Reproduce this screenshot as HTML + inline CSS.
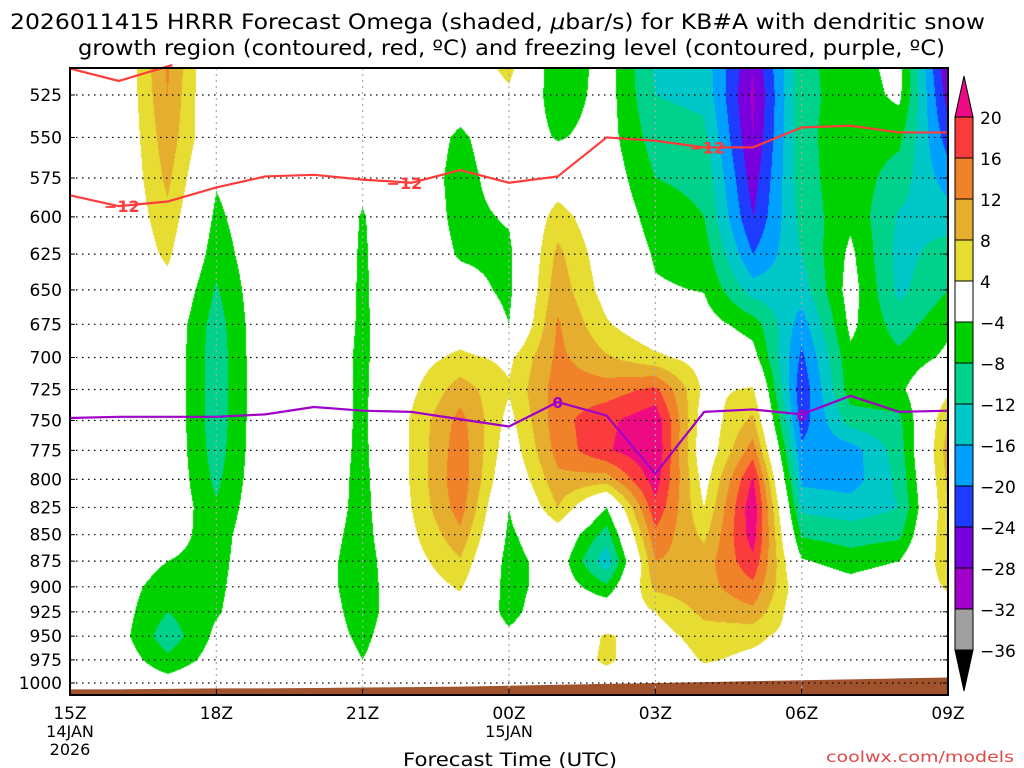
<!DOCTYPE html>
<html><head><meta charset="utf-8">
<style>
html,body{margin:0;padding:0;background:#fff;width:1024px;height:768px;overflow:hidden}
#wrap{position:relative;width:1024px;height:768px;font-family:"DejaVu Sans","Liberation Sans",sans-serif}
canvas{position:absolute;left:0;top:0}
svg{position:absolute;left:0;top:0}
</style></head>
<body>
<div id="wrap">
<canvas id="cv" width="1024" height="768"></canvas>
<svg id="sv" width="1024" height="768"></svg>
</div>
<script>
// ---- data ----
const hours = [0,1,2,3,4,5,6,7,8,9,10,11,12,13,14,15,16,17,18];
const xTickLabels = ["15Z","18Z","21Z","00Z","03Z","06Z","09Z"];
const xTickHours = [0,3,6,9,12,15,18];
const xDateLabels = [["14JAN","2026"],null,null,["15JAN"],null,null,null];
const pressureLevels = [500,525,550,575,600,625,650,675,700,725,750,775,800,825,850,875,900,925,950,975,1000];
const yTickLabels = [525,550,575,600,625,650,675,700,725,750,775,800,825,850,875,900,925,950,975,1000];
// omega rows (per pressure level), columns = hours
const omega500 = [0,-1,13,-2,0,0,0,0,0,7,-8,-2,-13,-14,-27,-9,-6,-2,-29];
const omega525 = [0,-1,12,-2,0,0,0,0,-1,3,-7,-2,-12,-13,-29,-9,-6.5,-3,-26];
const omega550 = [0,-1,10.5,-1,0,0,0,0,-5,0,-4.5,-2,-10,-11,-28,-9,-6,-7,-22];
const omega575 = [0,-1,9,-3.5,0,0,-3,0,-6,-1,1,-1,-8,-9,-26,-9.5,-5.5,-10,-18];
const omega600 = [0,-1,7,-5,0,0,-4.3,0,-5.5,-3.5,6,0,-6,-8,-24,-10.5,-5,-12.5,-14];
const omega625 = [0,-1,5,-6.5,0,0,-4.5,0,-4.5,-5,9,1,-4.5,-6,-20,-12,-3,-13.5,-10];
const omega650 = [0,0,2,-8.5,0,0,-4.6,0,-2,-5,10.5,2,-3.5,-4.2,-14,-14,-2,-13,-8];
const omega675 = [0,0,0,-10,0,0,-4.7,0,1,-4,12.5,4.5,0,-2,-6,-18,-3,-10,-5];
const omega700 = [0,0,0,-10.5,0,0,-5,2,5,3,13,8.5,5,2,-2,-21,-5,-7,-3];
const omega725 = [0,0,0,-10.5,0,0,-5,3,10,4.5,14,14,17,3,4.5,-23,-6,-5,3];
const omega750 = [0,0,0,-10.5,0,0,-5,4.5,13.5,2.5,14.5,19,23,1,9,-22,-10,-9,8];
const omega775 = [0,0,0,-10,0,0,-5.2,4.5,14.5,1,13.5,19.5,23.5,0,14,-19,-18,-10,10];
const omega800 = [0,0,0,-9,0,0,-5.5,4.5,15,-1,11,10,22,2,20.5,-17,-18,-11,9];
const omega825 = [0,0,0,-7.5,0,0,-5.7,4,14,-4,8,-4,19,4,23,-13,-14,-12,8];
const omega850 = [0,0,-2,-6,0,-1,-6,3,11,-5,1,-10,15,7,22,-8.5,-10,-9,8];
const omega875 = [0,-1,-4,-5.5,0,-1.5,-6.5,2,7.5,-6,-1,-15,12,10,19,-3.5,-6,-4,7];
const omega900 = [0,-2,-6,-5,0,-1.5,-6.5,1,4.5,-6,-1,-7,9,10.5,15,0,-2,0,4.5];
const omega925 = [0,-2,-8,-4.5,0,-1,-6,0,2,-5.5,0,0,4,9,11,0,0,0,2];
const omega950 = [0,-2,-10.5,-3,0,-1,-5,0,0,-3,0,4.5,2,6,5,2,0,0,1];
const omega975 = [0,-1,-7,-2,0,0,-4,0,0,-1,0,5,0,4.5,3,2,0,0,0];
const omega1000 = [0,0,-2,0,0,0,-2,0,0,0,0,1,0,1,1,0,0,0,0];
const dendriticMinus12 = [586,593,590,581,574,573,576,578,570,578,574,550,552,556,556,544,543,547,547];
const dendriticTop = [[0,510],[1,517],[2.1,508]];
const freezingLevel = [748,747,747,747,745,739,742,743,749,755,735,746,795,743,741,745,730,743,742];
const surfacePressure = [1007,1007,1006.5,1006,1006,1005.5,1005,1004.5,1004,1003,1002,1001,1000,999,998,997,996,995,994];
const colorLevels = [20,16,12,8,4,-4,-8,-12,-16,-20,-24,-28,-32,-36];
const shadeColors = ["#ee0a82","#fa3c3c","#f0822a","#e6ae2e","#e6dc32","#ffffff","#00d200","#00d28c","#00c8c8","#00a0ff","#1e3cff","#7800dc","#a000c8","#a0a0a0","#000000"];

const omegaRows = [omega500,omega525,omega550,omega575,omega600,omega625,omega650,omega675,omega700,omega725,omega750,omega775,omega800,omega825,omega850,omega875,omega900,omega925,omega950,omega975,omega1000];

// ---- axes ----
const X0=70,X1=948,Y0=68,Y1=695;
const pxPerHour=(X1-X0)/18;
function xOf(h){return X0+h*pxPerHour;}
const K=912.5;
function yOf(p){return 95+(Math.log(p)-Math.log(525))*K;}
function pOf(y){return Math.exp(Math.log(525)+(y-95)/K);}
function hex(c){return [parseInt(c.substr(1,2),16),parseInt(c.substr(3,2),16),parseInt(c.substr(5,2),16)];}
function colorIdx(v){
  if(v>=20)return 0;if(v>=16)return 1;if(v>=12)return 2;if(v>=8)return 3;if(v>=4)return 4;
  if(v>-4)return 5;if(v>-8)return 6;if(v>-12)return 7;if(v>-16)return 8;if(v>-20)return 9;
  if(v>-24)return 10;if(v>-28)return 11;if(v>-32)return 12;if(v>-36)return 13;return 14;
}
// ---- shading ----
const cv=document.getElementById('cv');const ctx=cv.getContext('2d');
const W=X1-X0,H=Y1-Y0;
const img=ctx.createImageData(W,H);
const rgb=shadeColors.map(hex);
for(let j=0;j<H;j++){
  const p=pOf(Y0+j+0.5);
  let r=0;while(r<pressureLevels.length-2&&p>pressureLevels[r+1])r++;
  let fy=(p-pressureLevels[r])/(pressureLevels[r+1]-pressureLevels[r]);fy=Math.max(0,Math.min(1,fy));
  const A=omegaRows[r],B=omegaRows[r+1];
  for(let i=0;i<W;i++){
    const h=(i+0.5)/pxPerHour;let c=Math.min(17,Math.floor(h));const fx=h-c;
    const v=(A[c]*(1-fx)+A[c+1]*fx)*(1-fy)+(B[c]*(1-fx)+B[c+1]*fx)*fy;
    const col=rgb[colorIdx(v)];const k=(j*W+i)*4;
    img.data[k]=col[0];img.data[k+1]=col[1];img.data[k+2]=col[2];img.data[k+3]=255;
  }
}
ctx.putImageData(img,X0,Y0);

// ---- overlay ----
const NS="http://www.w3.org/2000/svg";const sv=document.getElementById('sv');
function el(t,a,parent){const e=document.createElementNS(NS,t);for(const k in a)e.setAttribute(k,a[k]);(parent||sv).appendChild(e);return e;}
// terrain
let tp=surfacePressure.map((p,h)=>xOf(h)+","+yOf(p)).join(" ");
const terr=el('polygon',{points:tp+" "+X1+","+Y1+" "+X0+","+Y1,fill:"#a0522d"});


// grid
yTickLabels.forEach(p=>{
  const g=el('line',{x1:X0,x2:X1,y1:yOf(p),y2:yOf(p),stroke:"#000","stroke-width":1.2,"stroke-dasharray":"1.5 4.5"});
  
  
  const t=el('text',{x:62,y:yOf(p)+6,"text-anchor":"end","font-size":17,fill:"#000"});t.textContent=p;
  
  
  el('line',{x1:X0,x2:X0+5,y1:yOf(p),y2:yOf(p),stroke:"#000"});
  el('line',{x1:X1-5,x2:X1,y1:yOf(p),y2:yOf(p),stroke:"#000"});
});
xTickHours.forEach((h,i)=>{
  const x=xOf(h);
  if(i>0&&i<xTickHours.length-1){
    const g=el('line',{x1:x,x2:x,y1:Y0,y2:Y1,stroke:"#aaa","stroke-width":1.2,"stroke-dasharray":"2 4"});
    
    
  }
  el('line',{x1:x,x2:x,y1:Y1,y2:Y1-6,stroke:"#000"});
  const t=el('text',{x:x,y:719,"text-anchor":"middle","font-size":17});t.textContent=xTickLabels[i];
  
  
  if(xDateLabels[i]){xDateLabels[i].forEach((s,k)=>{const d=el('text',{x:x,y:737+k*18,"text-anchor":"middle","font-size":16});d.textContent=s;
    
    });}
});
// -12 line
const redPts=dendriticMinus12.map((p,h)=>xOf(h)+","+yOf(p)).join(" ");
const rl=el('polyline',{points:redPts,fill:"none",stroke:"#ff3c3c","stroke-width":2.2,"stroke-linejoin":"round"});


const rt=el('polyline',{points:dendriticTop.map(d=>xOf(d[0])+","+yOf(d[1])).join(" "),fill:"none",stroke:"#ff3c3c","stroke-width":2.2});


[1,7,13].forEach(h=>{
  const x=xOf(h)+(h===7?-7:3);const y=yOf(dendriticMinus12[h]);
  const t=el('text',{x:x,y:y+6,"text-anchor":"middle","font-size":16,"font-weight":"bold",fill:"#ff3c3c"});t.textContent="−12";
  
  
});
// freezing level
const fl=el('polyline',{points:freezingLevel.map((p,h)=>xOf(h)+","+yOf(p)).join(" "),fill:"none",stroke:"#a000c8","stroke-width":2.2,"stroke-linejoin":"round"});


[10,15].forEach(h=>{
  const t=el('text',{x:xOf(h),y:yOf(freezingLevel[h])+6,"text-anchor":"middle","font-size":15,"font-weight":"bold",fill:"#a000c8"});t.textContent="0";
  
  
});
// frame
const fr=el('rect',{x:X0,y:Y0,width:X1-X0,height:Y1-Y0,fill:"none",stroke:"#000","stroke-width":2});


// colorbar
const CBX=955,CBW=18,CBT=117,CBS=41;
const tri1=el('polygon',{points:`${CBX},${CBT} ${CBX+CBW},${CBT} ${CBX+CBW/2},${CBT-41}`,fill:shadeColors[0],stroke:"#000"});


for(let k=0;k<13;k++){
  const r=el('rect',{x:CBX,y:CBT+k*CBS,width:CBW,height:CBS,fill:shadeColors[k+1],stroke:"#000","stroke-width":1});
  
  
}
const tri2=el('polygon',{points:`${CBX},${CBT+13*CBS} ${CBX+CBW},${CBT+13*CBS} ${CBX+CBW/2},${CBT+14*CBS}`,fill:"#000",stroke:"#000"});


colorLevels.forEach((v,k)=>{
  const t=el('text',{x:980,y:CBT+k*CBS+7,"font-size":17});t.textContent=(v<0?"−":"")+Math.abs(v);
  
  
});
</script>
<svg width="1024" height="768" style="position:absolute;left:0;top:0">
<text x="10" y="29" textLength="975" lengthAdjust="spacingAndGlyphs" font-size="21" font-family="DejaVu Sans, Liberation Sans, sans-serif">2026011415 HRRR Forecast Omega (shaded, <tspan font-style="italic">μ</tspan>bar/s) for KB#A with dendritic snow</text>
<text x="78" y="55" textLength="867" lengthAdjust="spacingAndGlyphs" font-size="21" font-family="DejaVu Sans, Liberation Sans, sans-serif">growth region (contoured, red, ºC) and freezing level (contoured, purple, ºC)</text>
<text x="403" y="766" textLength="214" lengthAdjust="spacingAndGlyphs" font-size="19" font-family="DejaVu Sans, Liberation Sans, sans-serif">Forecast Time (UTC)</text>
<text x="826" y="762" textLength="188" lengthAdjust="spacingAndGlyphs" font-size="15" fill="#e04848" font-family="DejaVu Sans, Liberation Sans, sans-serif">coolwx.com/models</text>
</svg>
</body></html>
